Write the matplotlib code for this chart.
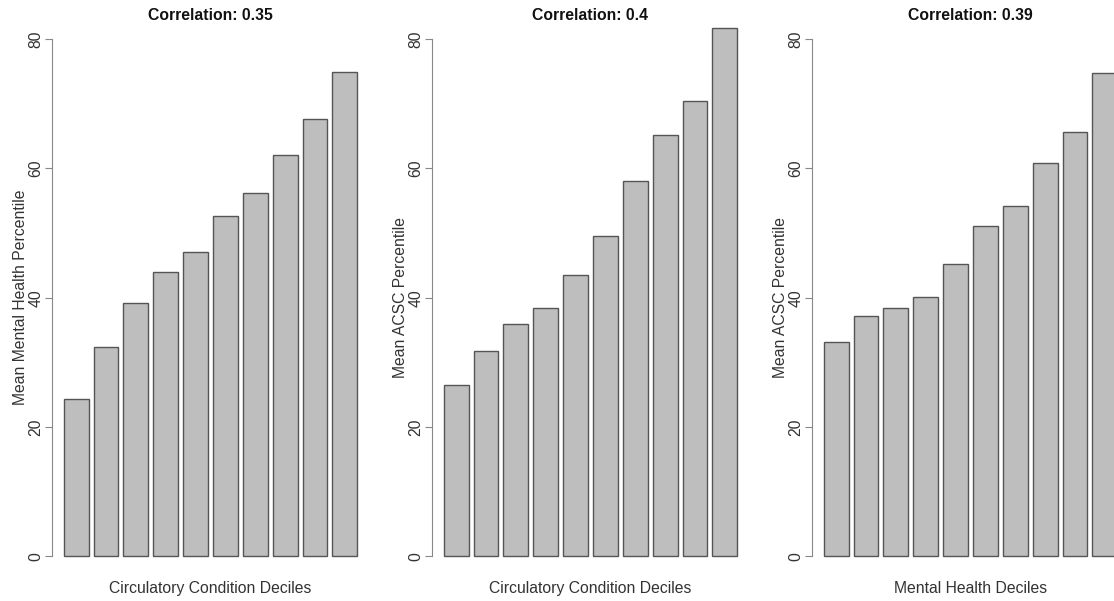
import numpy as np
import matplotlib.pyplot as plt

plt.rcParams['font.family'] = ['Liberation Sans', 'DejaVu Sans']

titles = ['Correlation: 0.35', 'Correlation: 0.4', 'Correlation: 0.39']
xlabels = ['Circulatory Condition Deciles', 'Circulatory Condition Deciles', 'Mental Health Deciles']
ylabels = ['Mean Mental Health Percentile', 'Mean ACSC Percentile', 'Mean ACSC Percentile']

circ_vs_mental = [24.4, 32.4, 39.2, 43.9, 47.1, 52.7, 56.2, 62.0, 67.6, 74.9]
circ_vs_acsc = [26.5, 31.7, 36.0, 38.4, 43.5, 49.5, 58.1, 65.2, 70.4, 81.7]
mental_vs_acsc = [33.1, 37.2, 38.4, 40.1, 45.2, 51.1, 54.2, 60.9, 65.6, 74.8]
series = [circ_vs_mental, circ_vs_acsc, mental_vs_acsc]

W, H = 1114, 601
fig = plt.figure(figsize=(W / 100, H / 100), dpi=100)

# R barplot layout: width 1, space 0.2
pos = 0.7 + 1.2 * np.arange(10)
lefts = [52, 432, 812]
txt = '#333333'

for i in range(3):
    ax = fig.add_axes([lefts[i] / W, 24 / H, 317 / W, 558.6 / H])
    ax.bar(pos, series[i], width=1.0, color='#bebebe', edgecolor='#555555', linewidth=1.0)
    ax.set_xlim(-0.272, 12.472)
    ax.set_ylim(-3.2, 83.2)
    for s in ['top', 'right', 'bottom']:
        ax.spines[s].set_visible(False)
    ax.spines['left'].set_bounds(0, 80)
    ax.spines['left'].set_color('#888888')
    ax.set_xticks([])
    ax.set_yticks([0, 20, 40, 60, 80])
    ax.tick_params(axis='y', length=5, width=0.8, color='#888888', pad=1, labelsize=11.3, labelcolor=txt)
    for lab in ax.get_yticklabels():
        lab.set_rotation(90)
        lab.set_va('center')
    ax.set_title(titles[i], fontsize=11.3, fontweight='bold', y=1.0, pad=-1, color='#111111')
    ax.set_xlabel(xlabels[i], fontsize=11.3, color=txt, labelpad=3)
    ax.set_ylabel(ylabels[i], fontsize=11.3, color=txt)
    ax.yaxis.set_label_coords(-0.077, 0.5)

fig.savefig('out.png', dpi=100)
